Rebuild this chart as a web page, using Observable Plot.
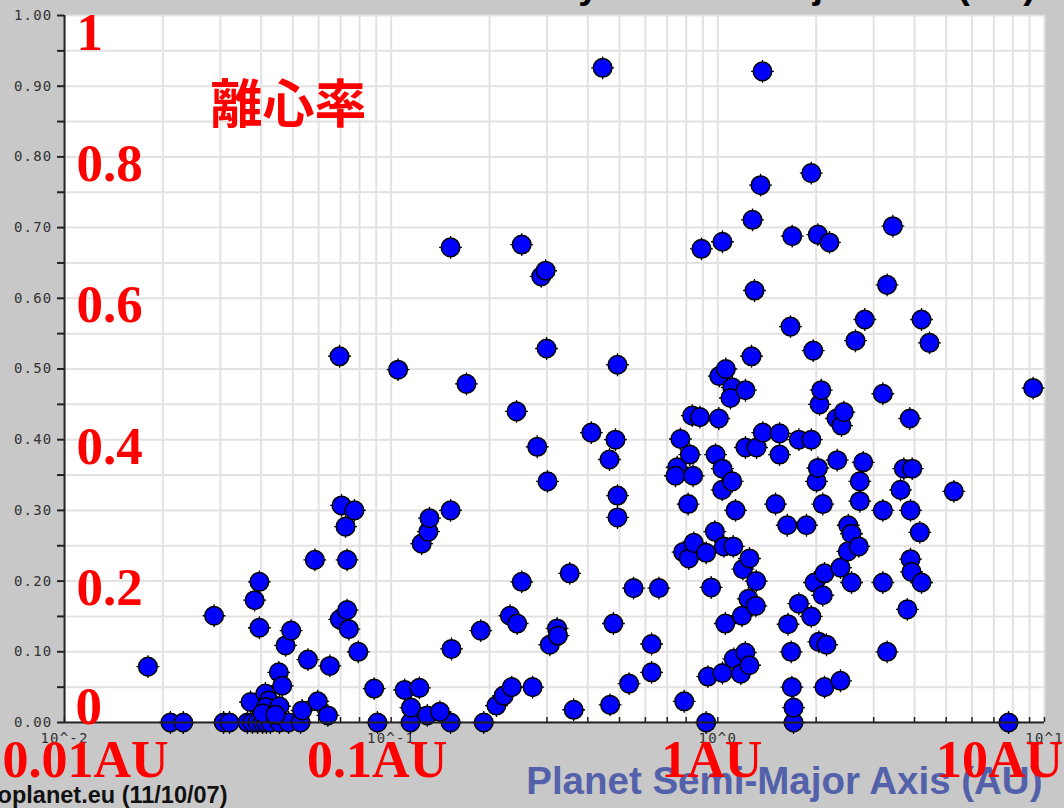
<!DOCTYPE html>
<html><head><meta charset="utf-8">
<script src="https://cdn.jsdelivr.net/npm/d3@7"></script>
<script src="https://cdn.jsdelivr.net/npm/@observablehq/plot@0.6"></script>
<style>
html,body{margin:0;padding:0;background:#c8c8c8;overflow:hidden;}
#chart svg{display:block}
g[aria-label="y-axis tick label"] text, g[aria-label="x-axis tick label"] text{letter-spacing:1.2px}
</style></head><body><div id="chart"></div>
<script>
// Semi-major axis (AU) and eccentricity
const semiMajorAxis = [
0.0211,0.0231,0.0307,0.032,0.0363,0.0376,0.039,0.0404,0.0415,0.0427,0.0455,0.0485,0.0528,0.0908,0.1146,0.152,0.192,0.921,1.705,7.76,
0.018,0.0287,0.0382,0.0395,0.0395,0.0371,0.0412,0.0422,0.0414,0.0455,0.0404,0.0442,0.0453,0.0464,0.0475,0.0494,0.0534,0.0556,0.0584,0.0596,
0.064,0.0649,0.0696,0.0695,0.0705,0.0725,0.0733,0.0733,0.0742,0.0772,0.0793,0.0887,0.105,0.110,0.122,0.115,0.129,0.141,0.124,0.130,
0.131,0.152,0.152,0.153,0.170,0.188,0.210,0.221,0.234,0.231,0.243,0.251,0.242,0.251,0.271,0.280,0.288,0.297,0.299,0.301,
0.306,0.322,0.324,0.352,0.362,0.410,0.444,0.468,0.466,0.479,0.486,0.493,0.493,0.493,0.535,0.552,0.627,0.627,0.660,0.751,
0.742,0.768,0.783,0.789,0.811,0.815,0.821,0.835,0.840,0.844,0.881,0.891,0.921,0.932,0.954,0.979,0.984,1.007,1.01,1.033,
1.033,1.031,1.033,1.058,1.054,1.043,1.115,1.107,1.093,1.107,1.133,1.119,1.176,1.185,1.193,1.214,1.215,1.215,1.24,1.25,
1.25,1.268,1.277,1.295,1.307,1.311,1.314,1.351,1.370,1.373,1.502,1.545,1.545,1.631,1.640,1.669,1.676,1.685,1.689,1.705,
1.770,1.770,1.868,1.932,1.932,1.933,1.959,1.977,2.005,2.024,2.024,2.038,2.048,2.073,2.096,2.096,2.121,2.121,2.151,2.197,
2.308,2.320,2.374,2.374,2.391,2.430,2.500,2.507,2.566,2.566,2.639,2.701,2.720,2.720,2.786,2.818,3.200,3.200,3.200,3.296,
3.296,3.434,3.625,3.710,3.803,3.870,3.889,3.889,3.917,3.936,4.153,4.203,4.203,4.446,5.278,9.23
];
const eccentricity = [
0,0,0,0,0,0,0,0,0,0,0,0,0,0,0,0,0,0,0,0,
0.079,0.151,0.173,0.199,0.134,0.029,0.041,0.031,0.022,0.023,0.013,0.011,0.071,0.052,0.109,0.130,0.017,0.089,0.230,0.030,
0.010,0.080,0.146,0.518,0.307,0.277,0.230,0.159,0.132,0.300,0.100,0.048,0.499,0.046,0.049,0.021,0.010,0.015,0.253,0.270,
0.289,0.672,0.300,0.104,0.479,0.130,0.024,0.038,0.050,0.151,0.140,0.199,0.440,0.676,0.050,0.390,0.631,0.639,0.529,0.341,
0.110,0.133,0.123,0.211,0.018,0.410,0.926,0.025,0.372,0.140,0.400,0.506,0.321,0.290,0.055,0.190,0.111,0.071,0.190,0.361,
0.349,0.401,0.241,0.030,0.309,0.232,0.379,0.434,0.349,0.254,0.432,0.670,0.240,0.065,0.191,0.270,0.379,0.430,0.490,0.680,
0.359,0.329,0.070,0.500,0.140,0.249,0.249,0.474,0.459,0.341,0.300,0.090,0.069,0.151,0.217,0.099,0.470,0.389,0.175,0.232,
0.081,0.518,0.711,0.611,0.165,0.200,0.389,0.760,0.921,0.410,0.309,0.409,0.379,0.279,0.139,0.560,0.100,0.050,0.688,0.021,
0.400,0.168,0.279,0.777,0.150,0.400,0.526,0.198,0.341,0.360,0.690,0.114,0.450,0.470,0.309,0.180,0.211,0.050,0.110,0.679,
0.430,0.371,0.219,0.059,0.420,0.439,0.242,0.279,0.267,0.198,0.540,0.249,0.341,0.313,0.368,0.570,0.465,0.300,0.198,0.619,
0.100,0.702,0.329,0.359,0.160,0.430,0.300,0.231,0.213,0.359,0.269,0.570,0.198,0.537,0.327,0.473
];

const xGridValues = [0.01,0.02,0.03,0.04,0.05,0.06,0.07,0.08,0.09,0.1,0.2,0.3,0.4,0.5,0.6,0.7,0.8,0.9,1,2,3,4,5,6,7,8,9,10];
const yGridValues = [0,0.05,0.1,0.15,0.2,0.25,0.3,0.35,0.4,0.45,0.5,0.55,0.6,0.65,0.7,0.75,0.8,0.85,0.9,0.95,1];
const xTickValues = [0.01,0.1,1,10];
const xTickLabels = ["10^-2","10^-1","10^0","10^1"];
const yTickValues = [0,0.1,0.2,0.3,0.4,0.5,0.6,0.7,0.8,0.9,1];
const yTickLabels = ["0.00","0.10","0.20","0.30","0.40","0.50","0.60","0.70","0.80","0.90","1.00"];

const redEccLabels = ["1","0.8","0.6","0.4","0.2","0"];
const redEccValues = [1,0.8,0.6,0.4,0.2,0];
const redAuLabels = ["0.01AU","0.1AU","1AU","10AU"];
const redAuValues = [0.01,0.1,1,10];
const yNote = "離心率";
const xLabel = "Planet Semi-Major Axis (AU)";
const credit = "exoplanet.eu (11/10/07)";
const title = "Planet Eccentricity vs Semi-Major Axis (AU)";

const points = semiMajorAxis.map((a, i) => ({a, e: eccentricity[i]}));
const fmtX = new Map(xTickValues.map((v, i) => [v, xTickLabels[i]]));
const fmtY = new Map(yTickValues.map((v, i) => [v, yTickLabels[i]]));
const eccRows = redEccLabels.map((t, i) => ({t, v: redEccValues[i]}));

const red = {fill: "#ff0000", fontFamily: "Liberation Serif", fontWeight: "bold", fontSize: 53};
const auDx = [21, -14, -6, -45];

const chart = Plot.plot({
  width: 1064, height: 808,
  marginLeft: 64, marginRight: 20, marginTop: 15, marginBottom: 86,
  style: {background: "#c8c8c8", fontFamily: "DejaVu Sans Mono", overflow: "visible"},
  x: {type: "log", domain: [0.01, 10]},
  y: {domain: [0, 1]},
  marks: [
    Plot.frame({fill: "white", stroke: null}),
    Plot.gridX({ticks: xGridValues, stroke: "#e2e2e2", strokeOpacity: 1, strokeWidth: 2}),
    Plot.gridY({ticks: yGridValues, stroke: "#e2e2e2", strokeOpacity: 1, strokeWidth: 2}),
    Plot.axisY({ticks: yGridValues, tickSize: 7, tickFormat: () => "", stroke: "#222", strokeWidth: 2, label: null}),
    Plot.axisY({ticks: yTickValues, tickSize: 0, tickPadding: 12, tickFormat: d => fmtY.get(d), fontSize: 14, fill: "#333", label: null}),
    Plot.axisX({ticks: xGridValues, tickSize: 5, dy: -5, tickFormat: () => "", stroke: "#222", strokeWidth: 1.5, label: null}),
    Plot.axisX({ticks: xTickValues, tickSize: 0, tickPadding: 11, tickFormat: d => fmtX.get(d), fontSize: 14, fill: "#333", label: null}),
    Plot.dot(points, {x: "a", y: "e", symbol: "plus", r: 7.4, stroke: "#000", strokeWidth: 1.3}),
    Plot.dot(points, {x: "a", y: "e", r: 9.3, fill: "#0000ff", stroke: "#000", strokeWidth: 1.5}),
    Plot.ruleY([0], {stroke: "#222", strokeWidth: 2}),
    Plot.ruleX([0.01], {stroke: "#222", strokeWidth: 2}),
    Plot.text([title], {frameAnchor: "top-right", dx: -9, dy: -18, textAnchor: "end", lineAnchor: "bottom", fill: "#000", fontFamily: "Liberation Sans", fontWeight: "bold", fontSize: 37}),
    Plot.text([xLabel], {frameAnchor: "bottom-right", dx: -2, dy: 71, textAnchor: "end", lineAnchor: "bottom", fill: "#5361ab", fontFamily: "Liberation Sans", fontWeight: "bold", fontSize: 38.5}),
    Plot.text([credit], {frameAnchor: "bottom-left", dx: 163, dy: 80, textAnchor: "end", lineAnchor: "bottom", fill: "#111", fontFamily: "Liberation Sans", fontWeight: "bold", fontSize: 23.5}),
    Plot.text(eccRows.filter(d => d.v === 1), {y: "v", text: "t", frameAnchor: "left", dx: 12, dy: 18, textAnchor: "start", lineAnchor: "middle", ...red}),
    Plot.text(eccRows.filter(d => d.v > 0 && d.v < 1), {y: "v", text: "t", frameAnchor: "left", dx: 12, dy: 7, textAnchor: "start", lineAnchor: "middle", ...red}),
    Plot.text(eccRows.filter(d => d.v === 0), {y: "v", text: "t", frameAnchor: "left", dx: 11, dy: -15, textAnchor: "start", lineAnchor: "middle", ...red}),
    ...redAuLabels.map((t, i) => Plot.text([t], {x: [redAuValues[i]], text: d => d, frameAnchor: "bottom", dx: auDx[i], dy: 38, textAnchor: "middle", lineAnchor: "middle", ...red, fontSize: 52})),
    Plot.text([yNote], {frameAnchor: "top-left", dx: 146, dy: 91, textAnchor: "start", lineAnchor: "middle", fill: "#ff0000", fontFamily: "Noto Sans CJK JP", fontWeight: "bold", fontSize: 52})
  ]
});
document.getElementById("chart").appendChild(chart);
</script></body></html>
